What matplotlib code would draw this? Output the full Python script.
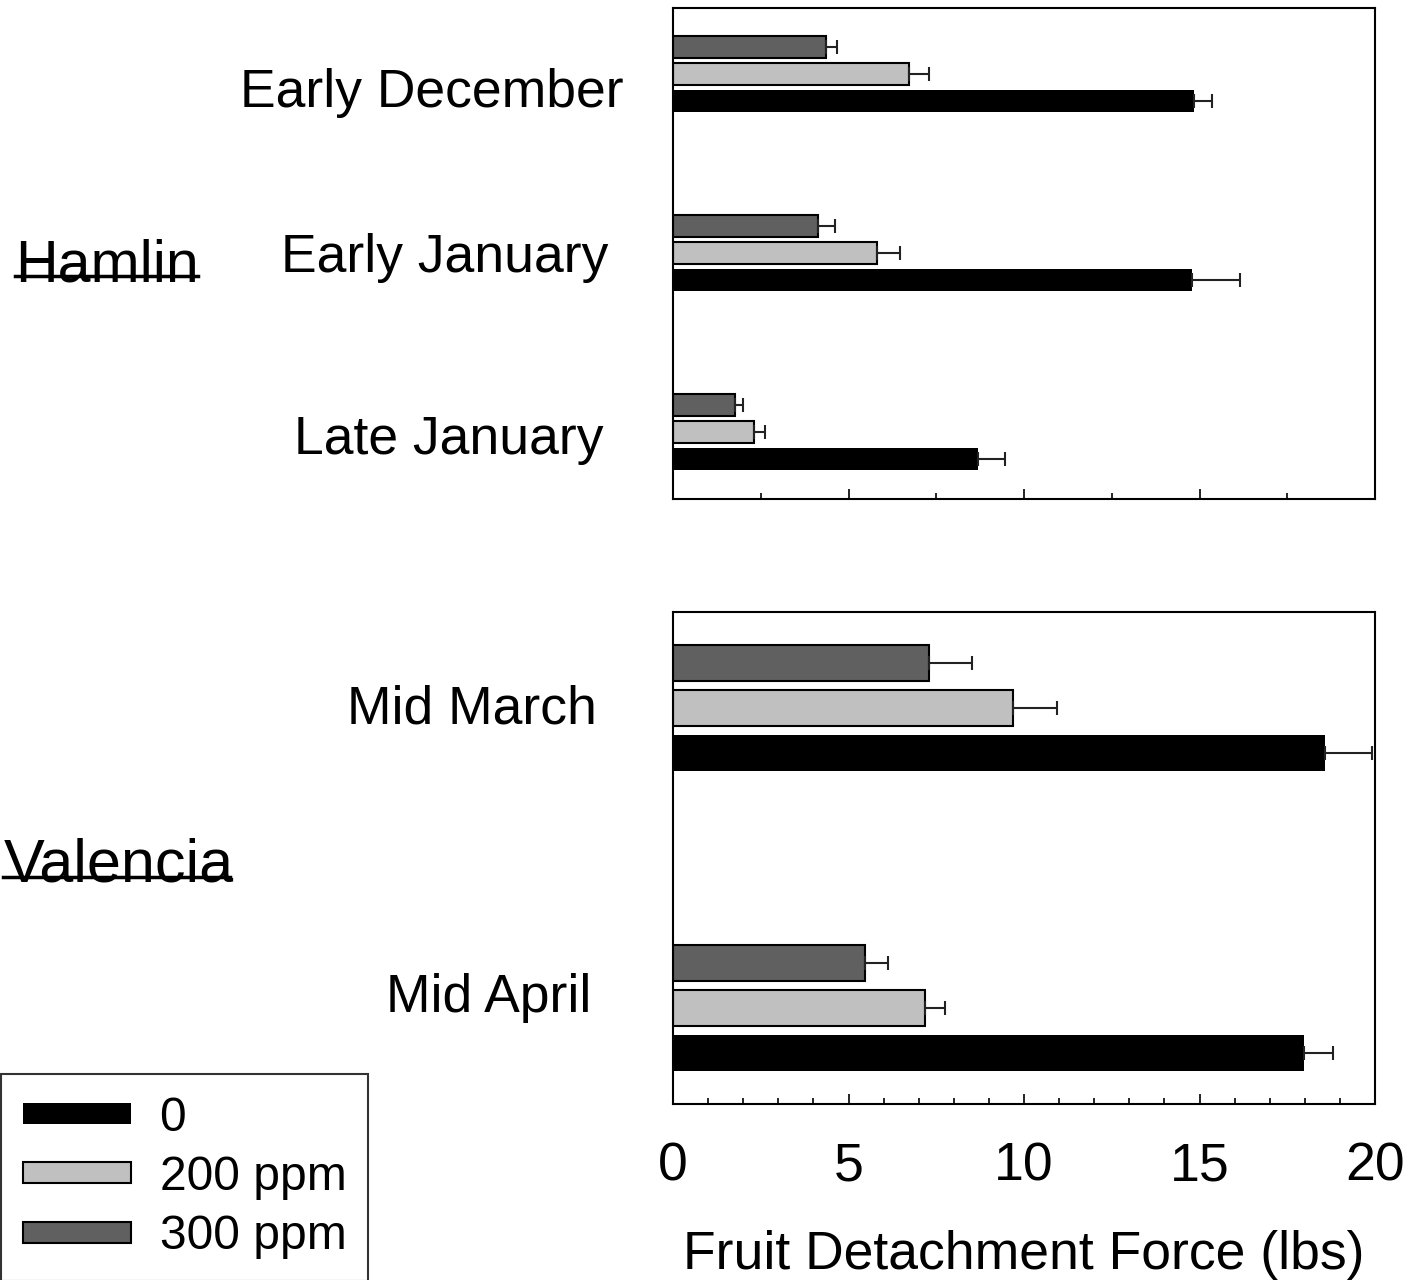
import numpy as np
import matplotlib.pyplot as plt
from matplotlib.patches import Patch
from matplotlib.lines import Line2D

plt.rcParams['font.family'] = ['Liberation Sans', 'DejaVu Sans']

# data (lbs)
hamlin_dates = ['Early December', 'Early January', 'Late January']
ham_0 = [14.85, 14.8, 8.7]
ham_0_err = [0.5, 1.35, 0.75]
ham_200 = [6.72, 5.8, 2.3]
ham_200_err = [0.57, 0.68, 0.32]
ham_300 = [4.36, 4.13, 1.77]
ham_300_err = [0.31, 0.48, 0.23]

valencia_dates = ['Mid March', 'Mid April']
val_0 = [18.58, 17.98]
val_0_err = [1.34, 0.83]
val_200 = [9.69, 7.18]
val_200_err = [1.25, 0.57]
val_300 = [7.29, 5.47]
val_300_err = [1.23, 0.66]

treatments = ['0', '200 ppm', '300 ppm']
colors = ['#000000', '#c0c0c0', '#606060']

W, H = 1411, 1280
fig = plt.figure(figsize=(W/100, H/100), dpi=100)
FS = 38.5

def draw(ax, vals, errs):
    n = len(vals[0])
    pos = np.arange(n)
    offs = [0.15, 0.0, -0.15]   # 0, 200, 300
    for k in range(3):
        ec = 'none' if k == 0 else 'black'
        ax.barh(pos + offs[k], vals[k], height=0.123, color=colors[k],
                edgecolor=ec, linewidth=1.5, zorder=2)
        ax.errorbar(vals[k], pos + offs[k], xerr=[np.zeros(n), errs[k]],
                    fmt='none', ecolor='#222222', elinewidth=1.5,
                    capsize=5, capthick=1.5, zorder=3)
    ax.set_xlim(0, 20)
    ax.set_yticks([])
    for s in ax.spines.values():
        s.set_linewidth(1.5)
    ax.tick_params(axis='x', which='both', direction='in', width=1.2)
    ax.tick_params(axis='x', which='major', length=7, labelsize=FS, pad=27)
    ax.tick_params(axis='x', which='minor', length=4)

ax1 = fig.add_axes([673/W, 1-499/H, 702/W, 491/H])
draw(ax1, [ham_0, ham_200, ham_300], [ham_0_err, ham_200_err, ham_300_err])
ax1.set_ylim(2.374, -0.369)
ax1.set_xticks([5, 10, 15])
ax1.set_xticks([2.5, 7.5, 12.5, 17.5], minor=True)
ax1.tick_params(axis='x', labelbottom=False)

ax2 = fig.add_axes([673/W, 1-1104/H, 702/W, 492/H])
draw(ax2, [val_0, val_200, val_300], [val_0_err, val_200_err, val_300_err])
ax2.set_ylim(1.32, -0.32)
ax2.set_xticks([0, 5, 10, 15, 20])
ax2.set_xticks(np.arange(1, 20), minor=True)
ax2.set_xlabel('Fruit Detachment Force (lbs)', fontsize=FS, labelpad=28)

# group labels
label_pos = [(624, 107), (608, 272), (604, 454), (597, 723), (591, 1012)]
for name, (x, y) in zip(hamlin_dates + valencia_dates, label_pos):
    fig.text(x/W, 1-y/H, name, ha='right', va='baseline', fontsize=FS)

# cultivar names, struck through
fig.text(15/W, 1-282/H, 'Hamlin', ha='left', va='baseline', fontsize=42.5)
fig.add_artist(Line2D([15/W, 198/W], [1-276/H, 1-276/H], color='black', lw=2.5,
                      transform=fig.transFigure))
fig.text(4/W, 1-882/H, 'Valencia', ha='left', va='baseline', fontsize=44)
fig.add_artist(Line2D([3/W, 230/W], [1-877/H, 1-877/H], color='black', lw=2.5,
                      transform=fig.transFigure))

LFS = 34.6
handles = [Patch(facecolor=c, edgecolor=('black' if i else 'none'), linewidth=1.5)
           for i, c in enumerate(colors)]
leg = fig.legend(handles, treatments, loc='upper left', bbox_to_anchor=(1/W, 1-1074/H),
                 fontsize=LFS, frameon=True, fancybox=False, edgecolor='black',
                 handlelength=2.25, handleheight=0.29, labelspacing=0.3,
                 borderpad=0.45, handletextpad=0.6, borderaxespad=0)
leg.get_frame().set_linewidth(1.5)

fig.savefig('out.png', dpi=100)
